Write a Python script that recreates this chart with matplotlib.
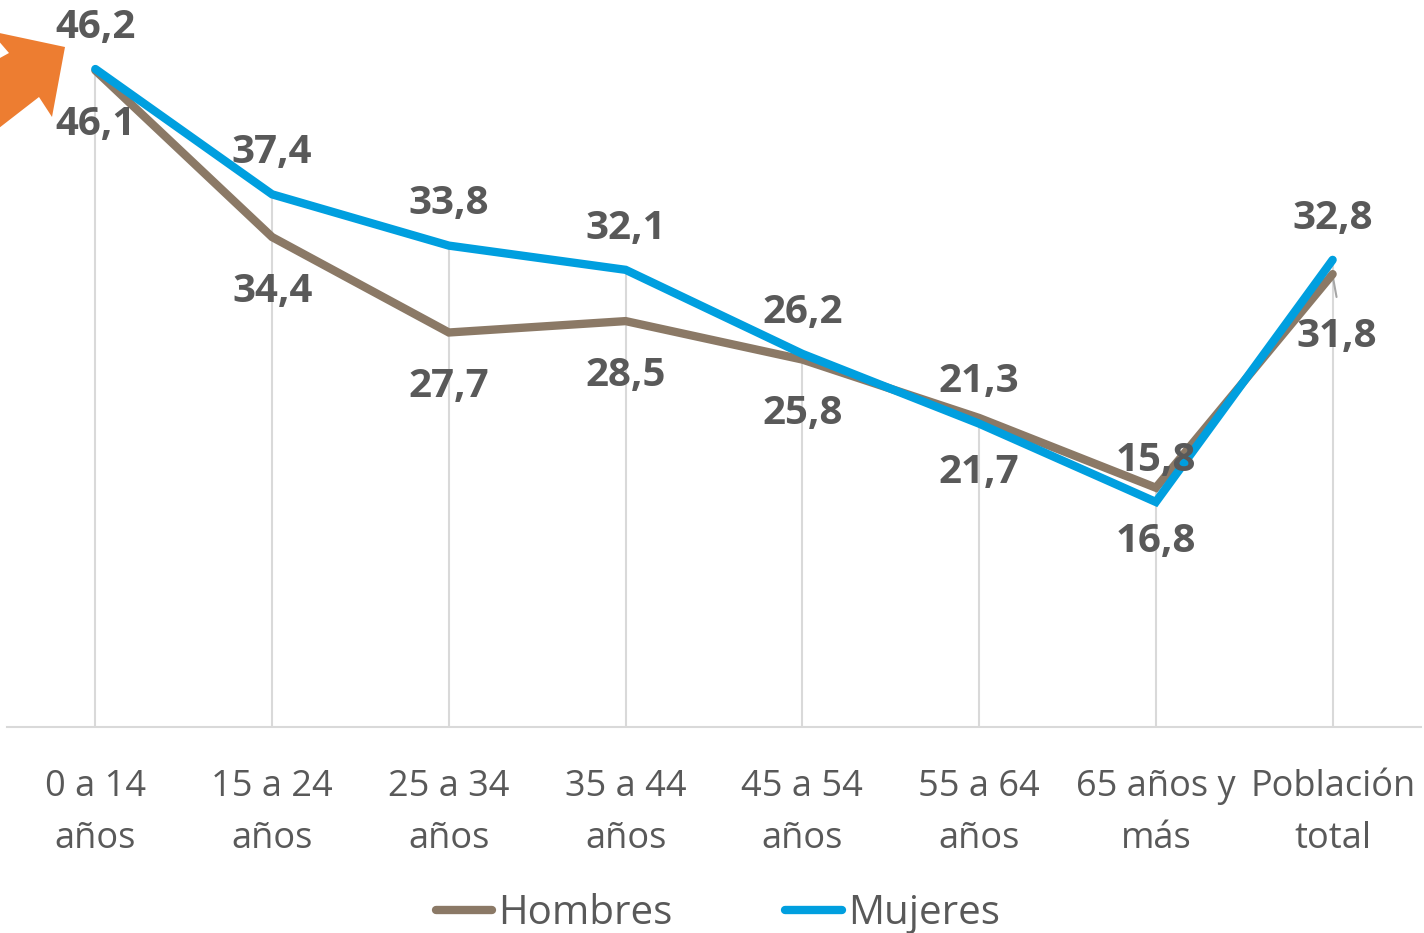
import matplotlib
matplotlib.use("Agg")
import matplotlib.pyplot as plt
from matplotlib.patches import Polygon

# categories and series
categorias = ["0 a 14\naños", "15 a 24\naños", "25 a 34\naños", "35 a 44\naños",
              "45 a 54\naños", "55 a 64\naños", "65 años y\nmás", "Población\ntotal"]
hombres = [46.1, 34.4, 27.7, 28.5, 25.8, 21.7, 16.8, 31.8]
mujeres = [46.2, 37.4, 33.8, 32.1, 26.2, 21.3, 15.8, 32.8]

GRIS = "#595959"
COL_H = "#8B7966"
COL_M = "#009FDF"

plt.rcParams["font.family"] = ["Open Sans", "DejaVu Sans"]

W, H = 1424, 933
fig = plt.figure(figsize=(W / 100, H / 100), dpi=100)

# axes: x from 7px to 1421px, baseline at y=727px, top at figure top
ax = fig.add_axes([7 / W, (H - 727) / H, 1414 / W, 727 / H])
x = list(range(len(categorias)))
ax.set_xlim(-0.5, len(categorias) - 0.5)
ax.set_ylim(0, 727 / 14.242)

# drop lines from the highest point to the baseline
tops = [max(a, b) for a, b in zip(hombres, mujeres)]
ax.vlines(x, 0, tops, color="#D9D9D9", lw=1.5, zorder=1)

ax.plot(x, hombres, color=COL_H, lw=6, solid_capstyle="round",
        solid_joinstyle="miter", label="Hombres", zorder=3)
ax.plot(x, mujeres, color=COL_M, lw=6, solid_capstyle="round",
        solid_joinstyle="miter", label="Mujeres", zorder=4)

# data labels: mujeres above, hombres below
for i, (h, m) in enumerate(zip(hombres, mujeres)):
    ax.annotate(f"{m:.1f}".replace(".", ","), (i, m), xytext=(0, 30),
                textcoords="offset points", ha="center", va="center",
                fontsize=29, fontweight="bold", color=GRIS, zorder=5)
    dy = -39
    dx = 0
    if i == len(hombres) - 1:
        dy, dx = -45, 3
    ax.annotate(f"{h:.1f}".replace(".", ","), (i, h), xytext=(dx, dy),
                textcoords="offset points", ha="center", va="center",
                fontsize=29, fontweight="bold", color=GRIS, zorder=5)

# small leader line for the last hombres label
ax.annotate("", xy=(x[-1], hombres[-1] - 0.1), xytext=(x[-1] + 0.025, hombres[-1] - 1.8),
            arrowprops=dict(arrowstyle="-", color="#A6A6A6", lw=1.5), zorder=2)

ax.set_xticks(x)
ax.set_xticklabels(categorias, fontsize=26, color=GRIS, linespacing=1.62)
ax.tick_params(axis="x", length=0, pad=30)
ax.set_yticks([])
for s in ["top", "right", "left"]:
    ax.spines[s].set_visible(False)
ax.spines["bottom"].set_color("#D9D9D9")
ax.spines["bottom"].set_linewidth(1.5)

# orange arrow at top-left
pts = [(65, 47), (-10, 31), (9, 53), (-40, 80), (-10, 135), (39, 97), (52, 117)]
arrow = Polygon([(px / W, 1 - py / H) for px, py in pts], closed=True,
                transform=fig.transFigure, facecolor="#ED7D31", edgecolor="none",
                clip_on=False, zorder=10)
fig.patches.append(arrow)

leg = fig.legend(loc="center", bbox_to_anchor=(0.504, 1 - 914 / H), ncol=2,
                 frameon=False, fontsize=29, handlelength=1.4, handletextpad=0.15,
                 columnspacing=2.8, labelcolor=GRIS)

fig.savefig("out.png", dpi=100)
